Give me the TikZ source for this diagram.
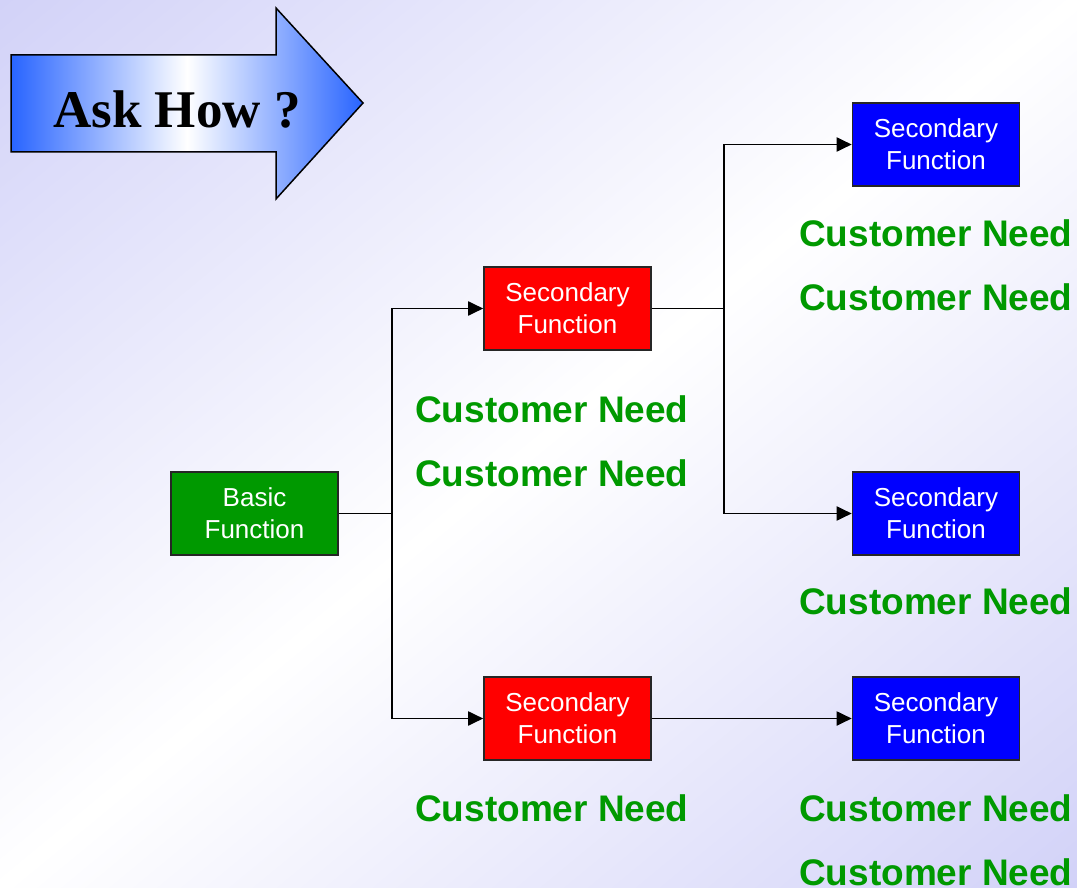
\documentclass[tikz,border=0pt]{standalone}
\usepackage{fontspec}
\setmainfont{Liberation Sans}
\newfontfamily\headfont{Liberation Serif}
\usetikzlibrary{arrows.meta,positioning}

\definecolor{bglav}{RGB}{210,210,248}
\definecolor{arrowblue}{RGB}{40,100,255}
\definecolor{basicgreen}{RGB}{0,153,0}
\definecolor{secred}{RGB}{255,0,0}
\definecolor{secblue}{RGB}{0,0,255}
\definecolor{needgreen}{RGB}{0,153,0}

\tikzset{
  funcbox/.style={draw=black!85, line width=1.6pt, minimum width=167pt,
    minimum height=83pt, inner sep=0pt, align=center, text=white,
    font=\fontsize{26}{32}\selectfont},
  basicbox/.style={funcbox, fill=basicgreen},
  redbox/.style={funcbox, fill=secred},
  bluebox/.style={funcbox, fill=secblue},
  need/.style={anchor=base west, inner sep=0pt, text=needgreen,
    font=\fontsize{37}{44}\selectfont\bfseries},
  link/.style={line width=1.9pt, draw=black},
  linkarrow/.style={link, -{Triangle[length=15pt,width=14pt]}}
}

\begin{document}
\begin{tikzpicture}[x=1pt,y=-1pt]
  % page background: lavender in two opposite corners, white along the other diagonal
  \begin{scope}
    \clip (0,0) rectangle (1077,888);
    \begin{scope}[transform canvas={rotate around={39.5:(538.5,444)}}]
      \shade[top color=bglav, bottom color=bglav, middle color=white]
        (-200,-241) rectangle (1277,1129);
    \end{scope}
  \end{scope}
  \useasboundingbox (0,0) rectangle (1077,888);

  % block arrow with the heading
  \path[draw=black, line width=1.5pt, left color=arrowblue, right color=arrowblue,
        middle color=white]
    (11,55) -- (276,55) -- (276,8) -- (363,103) -- (276,199) -- (276,152)
    -- (11,152) -- cycle;
  \node[anchor=base, inner sep=0pt, font=\headfont\fontsize{53}{60}\selectfont\bfseries]
    (askhow) at (177,128) {Ask How ?};

  % function boxes
  \node[basicbox] (basic) at (254.5,513.5) {Basic\\Function};
  \node[redbox] (red1) at (567.5,308.5) {Secondary\\Function};
  \node[redbox] (red2) at (567.5,718.5) {Secondary\\Function};
  \node[bluebox] (blue1) at (936,144.5) {Secondary\\Function};
  \node[bluebox] (blue2) at (936,513.5) {Secondary\\Function};
  \node[bluebox] (blue3) at (936,718.5) {Secondary\\Function};

  % branch points
  \coordinate (j1) at (392,513.5);
  \coordinate (j2) at (724,308.5);

  % connectors
  \draw[link] (basic.east) -- (j1);
  \draw[linkarrow] (j1) |- (red1.west);
  \draw[linkarrow] (j1) |- (red2.west);
  \draw[link] (red1.east) -- (j2);
  \draw[linkarrow] (j2) |- (blue1.west);
  \draw[linkarrow] (j2) |- (blue2.west);
  \draw[linkarrow] (red2.east) -- (blue3.west);

  % customer needs
  \node[need] (n1) at (415,422) {Customer Need};
  \node[need] (n2) at (415,486) {Customer Need};
  \node[need] (n3) at (415,821) {Customer Need};
  \node[need] (n4) at (799,246) {Customer Need};
  \node[need] (n5) at (799,310) {Customer Need};
  \node[need] (n6) at (799,614) {Customer Need};
  \node[need] (n7) at (799,821) {Customer Need};
  \node[need] (n8) at (799,885) {Customer Need};
\end{tikzpicture}
\end{document}
